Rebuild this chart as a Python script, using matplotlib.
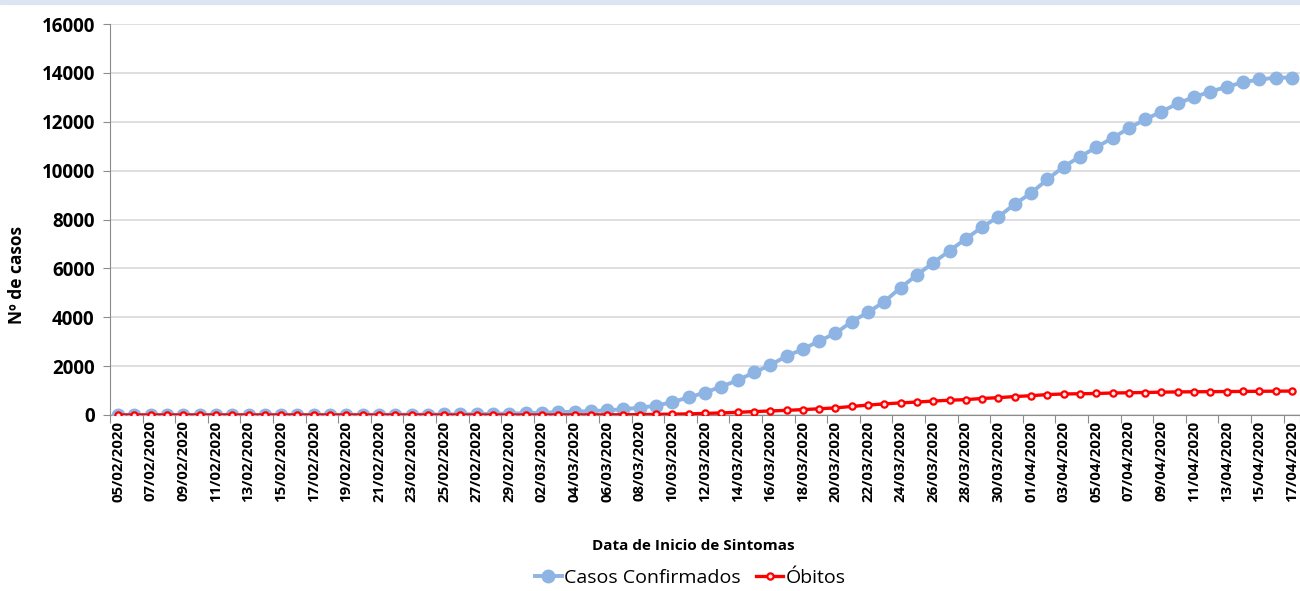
import matplotlib
matplotlib.use("Agg")
import matplotlib.pyplot as plt
from matplotlib.patches import Rectangle
from matplotlib.lines import Line2D
import pandas as pd

plt.rcParams['font.family'] = ['Open Sans', 'DejaVu Sans']

# daily categories 05/02/2020 .. 17/04/2020
dates = pd.date_range("2020-02-05", "2020-04-17", freq="D")
date_labels = [d.strftime("%d/%m/%Y") for d in dates]

confirmados = [0, 0, 0, 0, 1, 1, 1, 1, 2, 2, 2, 3, 3, 4, 5, 6, 8, 10, 13, 17,
               22, 30, 38, 48, 60, 75,
               92, 115, 135, 160, 190, 240, 300, 380,
               530, 720, 920, 1160, 1420, 1740,
               2040, 2410, 2690, 3030, 3340, 3820, 4200, 4640, 5210, 5730, 6230,
               6720, 7210, 7690, 8110, 8630, 9080, 9640, 10160, 10570, 10950,
               11340, 11730, 12100, 12410, 12750, 13010, 13230, 13430, 13610, 13730, 13800, 13810]

obitos = [0] * 26 + [1, 2, 3, 5, 7, 10,
                     15, 25, 35, 45, 65, 85, 110, 140, 165, 190,
                     220, 255, 290, 350, 405, 455, 495, 530, 570, 605, 630,
                     675, 710, 755, 790, 835, 860, 870, 880, 900, 910,
                     920, 935, 945, 950, 955, 960, 965, 970, 975, 980]

yticks = list(range(0, 16001, 2000))

blue = "#8db4e2"
red = "#ff0000"
grid_c = "#d9d9d9"
axis_c = "#8c8c8c"

fig = plt.figure(figsize=(13, 5.91), dpi=100)
ax = fig.add_axes([110 / 1300, 1 - 415 / 591, 1190 / 1300, (415 - 24) / 591])

x = list(range(len(dates)))
ax.plot(x, confirmados, color=blue, lw=2.8, marker="o", ms=9, zorder=3,
        solid_capstyle="round")
ax.plot(x, obitos, color=red, lw=2.4, marker="o", ms=4.5, mfc="#ffe5e5",
        mec=red, mew=1.6, zorder=4)

ax.set_xlim(-0.5, len(dates) - 0.5)
ax.set_ylim(0, 16000)
ax.set_yticks(yticks)
ax.set_yticklabels([str(v) for v in yticks], fontsize=13.5, fontweight="bold")
ax.grid(axis="y", color=grid_c, lw=1.2, zorder=0)

# tick marks between categories, labels on the points
ax.set_xticks([i - 0.5 for i in range(0, len(dates), 2)] + [len(dates) - 0.5])
ax.set_xticklabels([])
ax.set_xticks(x[::2], minor=True)
ax.set_xticklabels(date_labels[::2], minor=True, rotation=90, fontsize=10.8,
                   fontweight="bold")
ax.tick_params(axis="x", which="major", length=6, color=axis_c, direction="out")
ax.tick_params(axis="x", which="minor", length=0, pad=4)
ax.tick_params(axis="y", length=5, color=axis_c, pad=6)

for s in ["top", "right"]:
    ax.spines[s].set_visible(False)
ax.spines["left"].set_color(axis_c)
ax.spines["bottom"].set_color(axis_c)

fig.text(17 / 1300, 1 - 275 / 591, "Nº de casos", rotation=90, ha="center",
         va="center", fontsize=12.5, fontweight="bold")
fig.text(693 / 1300, 1 - 546 / 591, "Data de Inicio de Sintomas", ha="center",
         va="center", fontsize=11, fontweight="bold")

handles = [Line2D([], [], color=blue, lw=2.8, marker="o", ms=9),
           Line2D([], [], color=red, lw=2.4, marker="o", ms=4.5, mfc="#ffe5e5",
                  mec=red, mew=1.6)]
fig.legend(handles, ["Casos Confirmados", "Óbitos"], loc="center",
           bbox_to_anchor=(690 / 1300, 1 - 578 / 591), ncol=2, frameon=False,
           fontsize=14, handlelength=1.4, handletextpad=0.1, columnspacing=0.8,
           borderpad=0)

fig.patches.append(Rectangle((0, 1 - 4 / 591), 1, 4 / 591, transform=fig.transFigure,
                             color="#dce6f2", zorder=0))

fig.savefig("out.png", dpi=100)
